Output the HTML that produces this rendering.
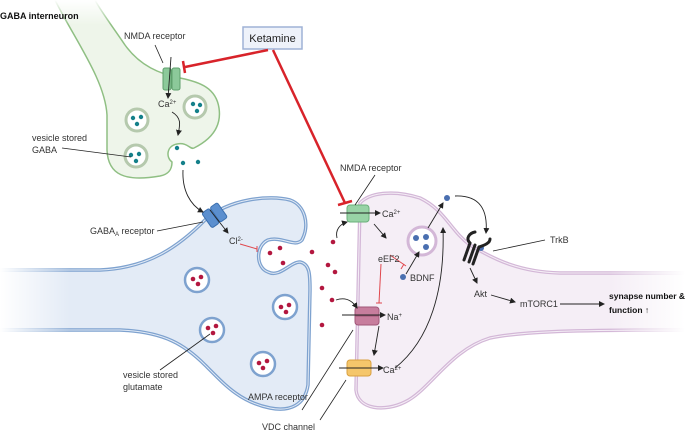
<!DOCTYPE html>
<html><head><meta charset="utf-8"><style>
html,body{margin:0;padding:0;background:#fff;}
svg{display:block;font-family:"Liberation Sans",sans-serif;}
</style></head><body>
<svg width="685" height="432" viewBox="0 0 685 432" xmlns="http://www.w3.org/2000/svg">
<defs>
<marker id="ah" markerWidth="6" markerHeight="6" refX="5" refY="3" orient="auto" markerUnits="userSpaceOnUse"><path d="M0,0 L6,3 L0,6 z" fill="#222"/></marker>
<linearGradient id="fadeL" x1="0" x2="1"><stop offset="0" stop-color="#fff" stop-opacity="1"/><stop offset="1" stop-color="#fff" stop-opacity="0"/></linearGradient>
<linearGradient id="fadeR" x1="0" x2="1"><stop offset="0" stop-color="#fff" stop-opacity="0"/><stop offset="1" stop-color="#fff" stop-opacity="1"/></linearGradient>
<linearGradient id="fadeT" x1="0" y1="0" x2="0" y2="1"><stop offset="0" stop-color="#fff" stop-opacity="1"/><stop offset="1" stop-color="#fff" stop-opacity="0"/></linearGradient>
</defs>

<!-- Green GABA interneuron -->
<path d="M55,0 C75,40 105,80 107,115 L107,150 C108,175 125,182 160,176 C170,174 172,168 172,162 C166,158 166,146 177,144 C188,142 190,150 194,148 C210,140 222,128 219,108 C216,88 200,82 180,78 C160,74 140,66 125,45 C115,30 100,10 95,0" fill="#eef5ea" stroke="#8fbf83" stroke-width="1.5"/>
<rect x="40" y="0" width="80" height="25" fill="url(#fadeT)"/>

<!-- Blue presynaptic terminal -->
<path d="M0,270 L100,270 C150,268 180,245 205,220 C230,198 270,195 290,200 C305,205 310,225 302,240 C295,248 282,236 268,240 C255,246 256,268 268,272 C280,278 290,262 300,262 C310,264 310,275 310,290 L308,385 C305,405 290,412 270,408 C240,402 225,385 205,365 C185,345 165,332 120,330 L0,330 Z" fill="#e3ebf6" stroke="none"/>
<path d="M0,270 L100,270 C150,268 180,245 205,220 C230,198 270,195 290,200 C305,205 310,225 302,240 C295,248 282,236 268,240 C255,246 256,268 268,272 C280,278 290,262 300,262 C310,264 310,275 310,290 L308,385 C305,405 290,412 270,408 C240,402 225,385 205,365 C185,345 165,332 120,330 L0,330" fill="none" stroke="#7ea2cf" stroke-width="3.5"/>
<path d="M0,270 L100,270 C150,268 180,245 205,220 C230,198 270,195 290,200 C305,205 310,225 302,240 C295,248 282,236 268,240 C255,246 256,268 268,272 C280,278 290,262 300,262 C310,264 310,275 310,290 L308,385 C305,405 290,412 270,408 C240,402 225,385 205,365 C185,345 165,332 120,330 L0,330" fill="none" stroke="#e3ebf6" stroke-width="1"/>
<rect x="0" y="262" width="70" height="76" fill="url(#fadeL)"/>

<!-- Pink postsynaptic -->
<path d="M685,273 L560,273 C520,272 495,260 470,245 C450,230 445,210 420,198 C395,190 370,192 360,203 L356,390 C358,410 385,412 405,402 C430,390 450,350 490,338 C520,332 560,330 685,330 Z" fill="#f5eef6" stroke="none"/>
<path d="M685,273 L560,273 C520,272 495,260 470,245 C450,230 445,210 420,198 C395,190 370,192 360,203 L356,390 C358,410 385,412 405,402 C430,390 450,350 490,338 C520,332 560,330 685,330" fill="none" stroke="#d3b7d7" stroke-width="3.5"/>
<path d="M685,273 L560,273 C520,272 495,260 470,245 C450,230 445,210 420,198 C395,190 370,192 360,203 L356,390 C358,410 385,412 405,402 C430,390 450,350 490,338 C520,332 560,330 685,330" fill="none" stroke="#f5eef6" stroke-width="1"/>
<rect x="610" y="265" width="75" height="75" fill="url(#fadeR)"/>

<!-- GABA vesicles -->
<g fill="#fff" stroke="#b5c9ad" stroke-width="3">
<circle cx="137" cy="120" r="11"/><circle cx="195" cy="107" r="11"/><circle cx="136" cy="156" r="11"/>
</g>
<g fill="#14808a">
<circle cx="133" cy="118" r="2.2"/><circle cx="141" cy="117" r="2.2"/><circle cx="137" cy="124" r="2.2"/>
<circle cx="193" cy="104" r="2.2"/><circle cx="200" cy="105" r="2.2"/><circle cx="197" cy="111" r="2.2"/>
<circle cx="131" cy="155" r="2.2"/><circle cx="139" cy="154" r="2.2"/><circle cx="136" cy="161" r="2.2"/>
<circle cx="177" cy="148" r="2.2"/><circle cx="183" cy="163" r="2.2"/><circle cx="198" cy="162" r="2.2"/>
</g>

<!-- Glutamate vesicles -->
<g fill="#fff" stroke="#7ea2cf" stroke-width="2.5">
<circle cx="197" cy="280" r="12"/><circle cx="285" cy="307" r="12"/><circle cx="212" cy="330" r="12"/><circle cx="263" cy="364" r="12"/>
</g>
<g fill="#b3173f">
<circle cx="193" cy="279" r="2.3"/><circle cx="201" cy="277" r="2.3"/><circle cx="198" cy="284" r="2.3"/>
<circle cx="281" cy="307" r="2.3"/><circle cx="289" cy="305" r="2.3"/><circle cx="286" cy="312" r="2.3"/>
<circle cx="208" cy="328" r="2.3"/><circle cx="216" cy="326" r="2.3"/><circle cx="213" cy="333" r="2.3"/>
<circle cx="259" cy="363" r="2.3"/><circle cx="267" cy="361" r="2.3"/><circle cx="263" cy="368" r="2.3"/>
<circle cx="270" cy="253" r="2.3"/><circle cx="280" cy="248" r="2.3"/><circle cx="283" cy="263" r="2.3"/>
<circle cx="312" cy="252" r="2.3"/><circle cx="328" cy="265" r="2.3"/><circle cx="335" cy="272" r="2.3"/>
<circle cx="322" cy="288" r="2.3"/><circle cx="332" cy="300" r="2.3"/><circle cx="322" cy="325" r="2.3"/>
<circle cx="333" cy="242" r="2.3"/>
</g>

<!-- BDNF vesicle -->
<circle cx="422" cy="241" r="14" fill="#fff" stroke="#d3b7d7" stroke-width="3"/>
<g fill="#4a6fb0">
<circle cx="416" cy="238" r="3"/><circle cx="426" cy="237" r="3"/><circle cx="426" cy="247" r="3"/>
<circle cx="403" cy="277" r="3"/><circle cx="447" cy="198" r="3"/><circle cx="481" cy="248" r="3"/>
</g>

<!-- Receptors -->
<g>
<rect x="163" y="68" width="8" height="22" rx="2" fill="#8cc99a" stroke="#5ea06c"/>
<rect x="172" y="68" width="8" height="22" rx="2" fill="#8cc99a" stroke="#5ea06c"/>
<rect x="347" y="205" width="22" height="17" rx="3" fill="#98d3a6" stroke="#6ab07b"/>
<line x1="347" y1="213" x2="369" y2="213" stroke="#6ab07b"/>
<rect x="355" y="307" width="24" height="18" rx="3" fill="#c77d9d" stroke="#a05678"/>
<line x1="355" y1="316" x2="379" y2="316" stroke="#a05678"/>
<rect x="347" y="360" width="24" height="16" rx="3" fill="#f5c66b" stroke="#d9a040"/>
<line x1="347" y1="368" x2="371" y2="368" stroke="#d9a040"/>
<g transform="rotate(-35 215 215)">
<rect x="205" y="206" width="9" height="18" rx="2" fill="#5b8fcf" stroke="#3b6fae"/>
<rect x="215" y="206" width="9" height="18" rx="2" fill="#5b8fcf" stroke="#3b6fae"/>
</g>
<g stroke="#222" stroke-width="3" fill="none" stroke-linecap="round">
<path d="M470,243 L464,260 M475,245 L469,262 M479,247 L473,264"/>
<path d="M470,243 C465,238 470,233 475,232 M479,247 C485,245 490,243 490,239"/>
</g>
</g>

<!-- Ketamine -->
<rect x="243" y="27" width="59" height="22" fill="#eef2fa" stroke="#9fb2d6" stroke-width="1.5"/>
<text x="272.5" y="42" font-size="11" text-anchor="middle" fill="#222">Ketamine</text>
<g stroke="#d8232a" stroke-width="2.5" fill="none">
<line x1="268" y1="50" x2="185" y2="67"/><line x1="183" y1="61" x2="185" y2="73"/>
<line x1="273" y1="50" x2="345" y2="203"/><line x1="338" y1="205" x2="352" y2="201"/>
</g>
<g stroke="#e0474d" stroke-width="1" fill="none">
<line x1="240" y1="244" x2="257" y2="249"/><line x1="257" y1="246" x2="257" y2="252"/>
<line x1="390" y1="255" x2="406" y2="266"/><line x1="404" y1="264" x2="401" y2="269"/>
<line x1="381" y1="264" x2="379" y2="303"/><line x1="376" y1="303" x2="382" y2="303"/>
</g>

<!-- arrows -->
<g stroke="#222" stroke-width="0.9" fill="none" marker-end="url(#ah)">
<line x1="171" y1="57" x2="168" y2="98"/>
<path d="M172,112 C182,118 180,125 178,135"/>
<path d="M183,170 C182,190 190,205 203,212"/>
<line x1="210" y1="210" x2="228" y2="233"/>
<path d="M337,238 C335,230 340,224 347,222"/>
<line x1="340" y1="213" x2="380" y2="213"/>
<line x1="374" y1="224" x2="386" y2="238"/>
<line x1="342" y1="315" x2="385" y2="315"/>
<path d="M336,300 C345,297 352,300 357,308"/>
<line x1="379" y1="326" x2="374" y2="355"/>
<line x1="339" y1="368" x2="383" y2="368"/>
<path d="M395,368 C430,340 445,290 443,228"/>
<line x1="406" y1="274" x2="419" y2="252"/>
<line x1="428" y1="228" x2="443" y2="203"/>
<path d="M455,196 C480,195 488,210 486,233"/>
<line x1="470" y1="268" x2="477" y2="283"/>
<line x1="491" y1="295" x2="515" y2="302"/>
<line x1="560" y1="304" x2="604" y2="304"/>
</g>

<!-- leader lines -->
<g stroke="#222" stroke-width="0.8">
<line x1="155" y1="45" x2="163" y2="63"/>
<line x1="62" y1="148" x2="131" y2="157"/>
<line x1="157" y1="231" x2="203" y2="222"/>
<line x1="160" y1="370" x2="210" y2="334"/>
<line x1="355" y1="205" x2="375" y2="175"/>
<line x1="493" y1="251" x2="545" y2="240"/>
<line x1="302" y1="410" x2="353" y2="330"/>
<line x1="320" y1="420" x2="346" y2="380"/>
</g>

<!-- labels -->
<g font-size="9" fill="#333">
<text x="0" y="19" font-weight="bold" fill="#111">GABA interneuron</text>
<text x="124" y="39">NMDA receptor</text>
<text x="158" y="107">Ca<tspan font-size="6" dy="-3">2+</tspan></text>
<text x="32" y="141">vesicle stored</text>
<text x="32" y="153">GABA</text>
<text x="90" y="234">GABA<tspan font-size="6" dy="2">A</tspan><tspan dy="-2"> receptor</tspan></text>
<text x="229" y="244">Cl<tspan font-size="6" dy="-3">2-</tspan></text>
<text x="123" y="378">vesicle stored</text>
<text x="123" y="390">glutamate</text>
<text x="340" y="171">NMDA receptor</text>
<text x="382" y="217">Ca<tspan font-size="6" dy="-3">2+</tspan></text>
<text x="378" y="262">eEF2</text>
<text x="410" y="281">BDNF</text>
<text x="387" y="320">Na<tspan font-size="6" dy="-3">+</tspan></text>
<text x="383" y="373">Ca<tspan font-size="6" dy="-3">2+</tspan></text>
<text x="550" y="243">TrkB</text>
<text x="474" y="297">Akt</text>
<text x="520" y="307">mTORC1</text>
<text x="609" y="299" font-size="8.5" font-weight="bold" fill="#111">synapse number &amp;</text>
<text x="609" y="313" font-size="8.5" font-weight="bold" fill="#111">function ↑</text>
<text x="248" y="400">AMPA receptor</text>
<text x="262" y="430">VDC channel</text>
</g>
</svg>
</body></html>
